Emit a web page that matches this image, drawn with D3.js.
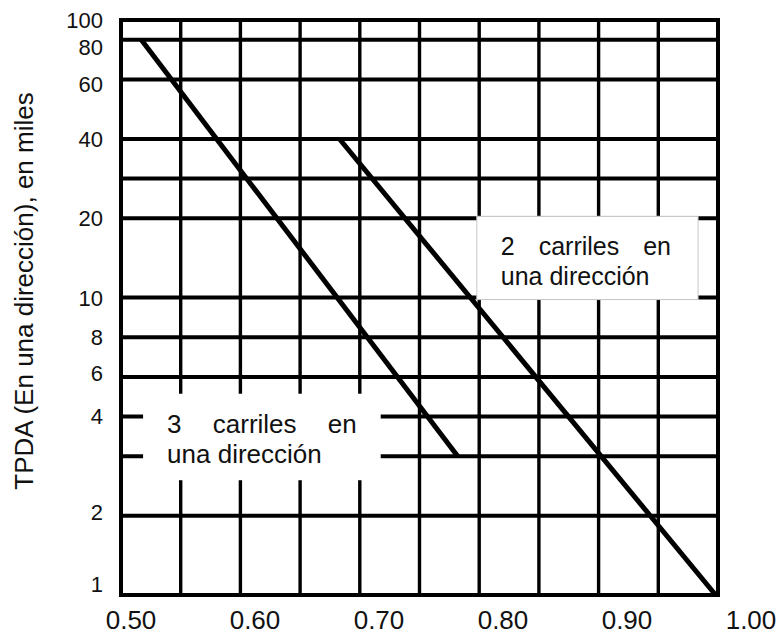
<!DOCTYPE html>
<html>
<head>
<meta charset="utf-8">
<script src="https://cdn.jsdelivr.net/npm/d3@7"></script>
<style>
  body { margin: 0; background: #fff; }
  text { font-family: "Liberation Sans", Arial, sans-serif; fill: #111; }
</style>
</head>
<body>
<svg id="chart" width="780" height="634"></svg>
<script>
// grid values
const xGrid = [0.50, 0.55, 0.60, 0.65, 0.70, 0.75, 0.80, 0.85, 0.90, 0.95, 1.00];
const xLabels = [0.50, 0.60, 0.70, 0.80, 0.90, 1.00];
const yGrid = [100, 80, 60, 40, 30, 20, 10, 8, 6, 4, 3, 2, 1];
const yLabels = [100, 80, 60, 40, 20, 10, 8, 6, 4, 2, 1];

// the two curves (factor vs TPDA, thousands)
const tresCarriles = [[0.517, 80], [0.782, 3]];
const dosCarriles = [[0.683, 40], [0.998, 1]];

const yTitle = 'TPDA (En una dirección), en miles';

// label boxes: [x0, x1, y0, y1] in data units
const boxes = [
  { area: [0.5185, 0.7175, 5.05, 2.63], lines: ['3 carriles en', 'una dirección'], outline: false, size: 26, spacing: 24 },
  { area: [0.798, 0.9833, 20, 10], lines: ['2 carriles en', 'una dirección'], outline: true, size: 25, spacing: 17 }
];

const margin = { top: 20, left: 121 },
      W = 597, H = 575;

const svg = d3.select('#chart');
const g = svg.append('g').attr('transform', `translate(${margin.left},${margin.top})`);

const x = d3.scaleLinear().domain([0.5, 1.0]).range([0, W]);
// the drawing is not a true log scale: rows are spaced by hand
const y = d3.scaleLinear()
  .domain(yGrid)
  .range([0, 1, 3, 6, 8, 10, 14, 16, 18, 20, 22, 25, 29].map(s => s * H / 29));

// grid
g.selectAll('.hline')
  .data(yGrid)
  .enter().append('line')
  .attr('x1', -2).attr('x2', W + 2)
  .attr('y1', d => y(d)).attr('y2', d => y(d))
  .attr('stroke', '#000').attr('stroke-width', 4);

g.selectAll('.vline')
  .data(xGrid)
  .enter().append('line')
  .attr('x1', d => x(d)).attr('x2', d => x(d))
  .attr('y1', 0).attr('y2', H)
  .attr('stroke', '#000').attr('stroke-width', d => (d === 0.5 || d === 1.0) ? 4 : 3.4);

// white label boxes over the grid
boxes.forEach(b => {
  const [x0, x1, y0, y1] = b.area;
  g.append('rect')
    .attr('x', x(x0)).attr('y', y(y0) - 2)
    .attr('width', x(x1) - x(x0)).attr('height', y(y1) - y(y0) + 4)
    .attr('fill', '#fff')
    .attr('stroke', b.outline ? '#c8c8c8' : 'none').attr('stroke-width', 1);
  const t = g.append('text')
    .attr('font-size', b.size);
  t.append('tspan')
    .attr('x', x(x0) + 24).attr('y', y(y0) + 37)
    .style('word-spacing', b.spacing + 'px')
    .text(b.lines[0]);
  t.append('tspan')
    .attr('x', x(x0) + 24).attr('y', y(y0) + 67)
    .text(b.lines[1]);
});

// curves
const line = d3.line().x(d => x(d[0])).y(d => y(d[1]));
[tresCarriles, dosCarriles].forEach(c => {
  g.append('path')
    .attr('d', line(c))
    .attr('fill', 'none')
    .attr('stroke', '#000')
    .attr('stroke-width', 5);
});

// tick labels
const xl = d3.scaleLinear().domain([0.5, 1.0]).range([131 - margin.left, 751 - margin.left]);
g.selectAll('.xlab')
  .data(xLabels)
  .enter().append('text')
  .attr('x', d => xl(d))
  .attr('y', H + 34)
  .attr('text-anchor', 'middle')
  .attr('font-size', 26)
  .text(d => d.toFixed(2));

// small nudges so labels sit as in the drawing
const nudge = { 80: 7, 60: 5, 6: -4, 2: -4, 1: -11 };
g.selectAll('.ylab')
  .data(yLabels)
  .enter().append('text')
  .attr('x', -18)
  .attr('y', d => y(d) + (nudge[d] || 0))
  .attr('dy', '0.36em')
  .attr('text-anchor', 'end')
  .attr('font-size', 22)
  .text(d => d);

svg.append('text')
  .attr('transform', 'translate(33,291) rotate(-90)')
  .attr('text-anchor', 'middle')
  .attr('font-size', 26)
  .text(yTitle);
</script>
</body>
</html>
